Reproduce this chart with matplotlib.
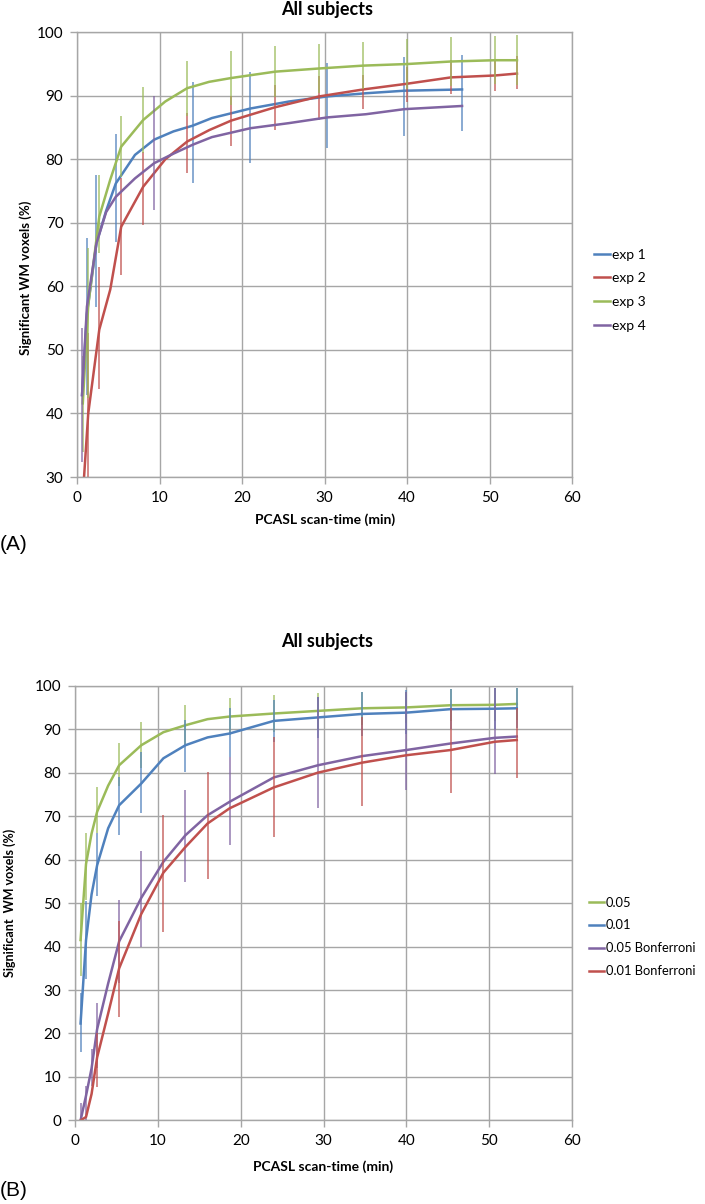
import numpy as np
import matplotlib
matplotlib.use('Agg')
import matplotlib.pyplot as plt

# ---- panel A: four experiments ----
t_a_long = [0.67, 1.33, 2.67, 4.0, 5.33, 8.0, 10.67, 13.33, 16.0, 18.67, 24.0, 29.33,
            34.67, 40.0, 45.33, 50.67, 53.33]
t_a_short = [0.58, 1.17, 2.33, 3.5, 4.67, 7.0, 9.33, 11.67, 14.0, 16.33, 21.0, 25.67,
             30.33, 35.0, 39.67, 46.67]

exp1 = [42.9, 55.7, 66.8, 71.9, 76.2, 80.7, 83.1, 84.4, 85.3, 86.5, 88.0, 89.1,
        89.9, 90.4, 90.8, 91.0]
exp2 = [27.0, 40.0, 53.2, 59.5, 69.4, 75.7, 80.0, 82.8, 84.6, 86.1, 88.2, 89.9,
        91.0, 91.9, 92.9, 93.2, 93.5]
exp3 = [41.6, 57.0, 71.0, 76.8, 82.0, 86.2, 89.1, 91.2, 92.2, 92.8, 93.8, 94.3,
        94.75, 95.0, 95.4, 95.6, 95.6]
exp4 = [42.9, 56.8, 66.8, 71.7, 74.1, 77.0, 79.4, 80.9, 82.3, 83.5, 84.9, 85.7,
        86.6, 87.1, 87.9, 88.4]

# error bars (low, high)
exp1_bx = [1.17, 2.33, 4.67, 14.0, 21.0, 30.33, 39.67, 46.67]
exp1_lo = [42.9, 56.8, 67.0, 76.2, 79.4, 81.8, 83.6, 84.4]
exp1_hi = [67.6, 77.5, 84.0, 92.2, 93.7, 95.2, 96.1, 96.4]
exp2_bx = [1.33, 2.67, 5.33, 8.0, 13.33, 18.67, 24.0, 29.33, 34.67, 40.0, 45.33, 50.67, 53.33]
exp2_lo = [30.0, 43.9, 61.8, 69.7, 77.9, 82.1, 84.6, 86.2, 87.9, 89.1, 90.3, 90.7, 91.0]
exp2_hi = [52.6, 63.1, 77.0, 81.2, 87.3, 89.9, 91.7, 93.1, 93.3, 94.6, 95.6, 95.7, 96.2]
exp3_bx = [0.67, 1.33, 2.67, 5.33, 8.0, 13.33, 18.67, 24.0, 29.33, 34.67, 40.0, 45.33, 50.67, 53.33]
exp3_lo = [34.0, 42.5, 65.2, 77.2, 81.0, 86.9, 88.6, 89.8, 90.4, 91.0, 91.0, 91.6, 91.8, 91.7]
exp3_hi = [49.0, 66.0, 77.5, 86.8, 91.4, 95.5, 97.0, 97.8, 98.2, 98.5, 99.0, 99.2, 99.4, 99.5]
exp4_bx = [0.58, 9.33]
exp4_lo = [32.4, 72.0]
exp4_hi = [53.4, 89.9]

# ---- panel B: significance thresholds ----
t_b = [0.67, 1.33, 2.0, 2.67, 4.0, 5.33, 8.0, 10.67, 13.33, 16.0, 18.67, 24.0, 29.33,
       34.67, 40.0, 45.33, 50.67, 53.33]
p05 = [41.5, 59.0, 66.0, 71.0, 77.0, 81.7, 86.3, 89.3, 90.9, 92.3, 92.9, 93.6, 94.2,
       94.8, 95.0, 95.5, 95.6, 95.8]
p01 = [22.3, 41.5, 52.0, 58.7, 67.2, 72.5, 77.5, 83.3, 86.3, 88.1, 89.0, 91.9, 92.7,
       93.5, 93.8, 94.6, 94.7, 94.8]
p05b = [0.0, 5.7, 12.0, 21.0, 31.5, 41.2, 51.2, 59.5, 65.6, 70.2, 73.3, 78.9, 81.7,
        83.8, 85.2, 86.7, 88.0, 88.3]
p01b = [0.0, 0.8, 6.1, 14.5, 24.6, 35.0, 47.5, 57.0, 62.9, 68.3, 71.8, 76.6, 80.0,
        82.3, 84.0, 85.2, 87.1, 87.5]

p05_bx = [0.67, 1.33, 2.67, 5.33, 8.0, 13.33, 18.67, 24.0, 29.33, 34.67, 40.0, 45.33, 50.67, 53.33]
p05_lo = [33.3, 50.8, 66.0, 77.0, 81.0, 86.3, 88.7, 89.3, 90.0, 91.0, 91.4, 91.8, 91.8, 92.2]
p05_hi = [50.1, 66.0, 76.7, 86.9, 91.6, 95.5, 97.1, 97.9, 98.4, 98.6, 98.6, 99.2, 99.4, 99.4]
p01_bx = [0.67, 1.33, 2.67, 5.33, 8.0, 13.33, 18.67, 24.0, 29.33, 34.67, 40.0, 45.33, 50.67, 53.33]
p01_lo = [15.7, 32.5, 51.6, 65.6, 70.8, 80.2, 83.7, 87.0, 88.0, 88.5, 89.0, 90.0, 90.0, 90.2]
p01_hi = [29.4, 50.5, 66.0, 79.0, 84.8, 92.1, 94.8, 96.7, 97.5, 98.6, 98.9, 99.2, 99.4, 99.4]
p05b_bx = [0.67, 1.33, 2.0, 2.67, 5.33, 8.0, 13.33, 18.67, 29.33, 40.0, 50.67]
p05b_lo = [0.0, 0.0, 8.0, 12.0, 31.5, 39.8, 54.9, 63.3, 71.8, 76.0, 79.7]
p05b_hi = [4.0, 8.0, 16.4, 27.0, 50.7, 61.9, 76.0, 83.7, 97.5, 98.6, 99.4]
p01b_bx = [2.67, 5.33, 10.67, 16.0, 24.0, 34.67, 45.33, 53.33]
p01b_lo = [7.7, 23.7, 43.4, 55.6, 65.2, 72.4, 75.2, 78.7]
p01b_hi = [20.0, 45.9, 70.2, 80.2, 88.3, 92.9, 94.8, 94.8]

BLUE, RED, GREEN, PURPLE = '#4F81BD', '#C0504D', '#9BBB59', '#8064A2'
GRID = '#a6a6a6'

plt.rcParams['font.family'] = ['Lato', 'DejaVu Sans']

fig = plt.figure(figsize=(7.05, 12.04), dpi=100)
axA = fig.add_axes([0.1096, 0.6038, 0.7017, 0.3694])
axB = fig.add_axes([0.1064, 0.0694, 0.705, 0.3611])


def style(ax, ymin):
    ax.set_xlim(0, 60)
    ax.set_ylim(ymin, 100)
    ax.set_xticks(range(0, 61, 10))
    ax.set_yticks(range(ymin, 101, 10))
    ax.grid(True, color=GRID, lw=1.0)
    ax.set_axisbelow(True)
    for s in ax.spines.values():
        s.set_color(GRID)
        s.set_linewidth(1.0)
    ax.tick_params(color=GRID, length=5, width=1, labelsize=11, pad=5)
    ax.set_xlabel('PCASL scan-time (min)', fontsize=10, fontweight='bold')


def series(ax, t, y, bx, lo, hi, color, label, bar_alpha=0.85):
    ax.vlines(bx, lo, hi, color=color, lw=1.1, alpha=bar_alpha, clip_on=True)
    ax.plot(t, y, color=color, lw=1.8, label=label, clip_on=True)


leg_kw = dict(loc='center left', frameon=False, borderpad=0, borderaxespad=0,
              handlelength=1.2, handletextpad=0.12, labelspacing=0.85)

style(axA, 30)
series(axA, t_a_short, exp1, exp1_bx, exp1_lo, exp1_hi, BLUE, 'exp 1')
series(axA, t_a_long, exp2, exp2_bx, exp2_lo, exp2_hi, RED, 'exp 2')
series(axA, t_a_long, exp3, exp3_bx, exp3_lo, exp3_hi, GREEN, 'exp 3')
series(axA, t_a_short, exp4, exp4_bx, exp4_lo, exp4_hi, PURPLE, 'exp 4')
axA.set_ylabel('Significant WM voxels (%)', fontsize=9.5, fontweight='bold')
axA.yaxis.set_label_coords(-0.092, 0.447)
axA.xaxis.set_label_coords(0.5, -0.081)
axA.legend(bbox_to_anchor=(1.044, 0.42), fontsize=10, **leg_kw)

style(axB, 0)
series(axB, t_b, p05, p05_bx, p05_lo, p05_hi, GREEN, '0.05')
series(axB, t_b, p01, p01_bx, p01_lo, p01_hi, BLUE, '0.01')
series(axB, t_b, p05b, p05b_bx, p05b_lo, p05b_hi, PURPLE, '0.05 Bonferroni')
series(axB, t_b, p01b, p01b_bx, p01b_lo, p01b_hi, RED, '0.01 Bonferroni')
axB.set_ylabel('Significant  WM voxels (%)', fontsize=9, fontweight='bold')
axB.yaxis.set_label_coords(-0.119, 0.50)
axB.xaxis.set_label_coords(0.5, -0.091)
axB.legend(bbox_to_anchor=(1.034, 0.422), fontsize=9.3, **leg_kw)

fig.text(327 / 705, 1 - 10 / 1204, 'All subjects', ha='center', va='center',
         fontsize=13, fontweight='bold')
fig.text(327 / 705, 1 - 642 / 1204, 'All subjects', ha='center', va='center',
         fontsize=13, fontweight='bold')
fig.text(0.0, 1 - 545 / 1204, '(A)', ha='left', va='center', fontsize=15,
         family='Liberation Sans')
fig.text(0.0, 1 - 1190 / 1204, '(B)', ha='left', va='center', fontsize=15,
         family='Liberation Sans')

fig.savefig('out.png', dpi=100)
